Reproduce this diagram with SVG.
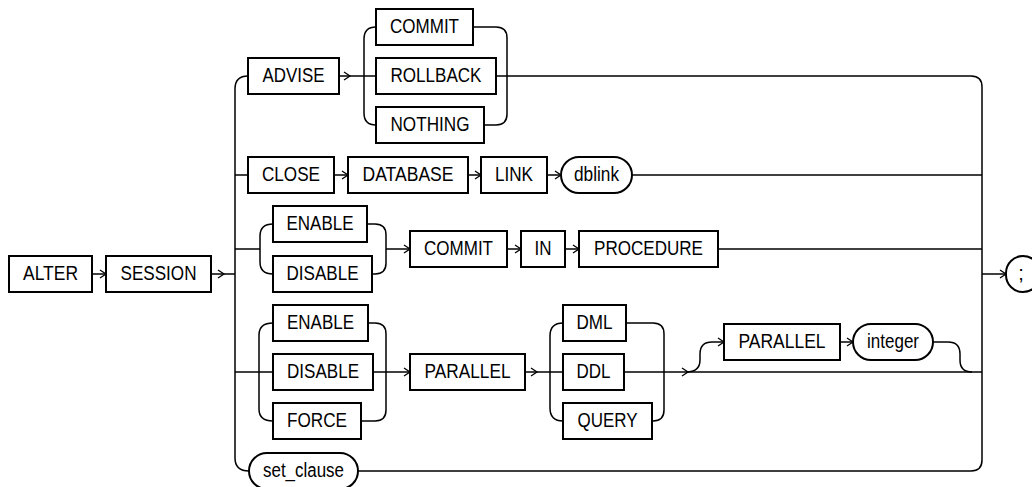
<svg xmlns="http://www.w3.org/2000/svg" width="1032" height="487" viewBox="0 0 1032 487">
<style>
.b{fill:#fff;stroke:#000;stroke-width:2}
.t{font-family:"Liberation Sans",Arial,sans-serif;font-size:20px;fill:#000;text-anchor:middle}
.c{fill:none;stroke:#000;stroke-width:1.5}
.ar{fill:none;stroke:#000;stroke-width:1.5;marker-end:url(#a)}
</style>
<defs>
<marker id="a" markerWidth="10" markerHeight="10" refX="8.5" refY="5" orient="auto" markerUnits="userSpaceOnUse">
<path d="M2.5,1 L8.5,5 L2.5,9" fill="none" stroke="#000" stroke-width="1.3"/>
</marker>
</defs>
<rect width="1032" height="487" fill="#fff"/>
<g id="connectors">
<path class="ar" d="M92,274 H106"/>
<path class="ar" d="M211,274 H224"/>
<path class="c" d="M224,274 H235"/>
<path class="c" d="M248,76 Q235,76 235,89 V458 Q235,471 249,471"/>
<path class="c" d="M235,175 H248"/>
<path class="c" d="M235,249 H260"/>
<path class="c" d="M235,372 H273"/>
<path class="ar" d="M339,76 H350"/>
<path class="c" d="M350,76 H376"/>
<path class="c" d="M376,27 Q364,27 364,39 V113 Q364,125 376,125"/>
<path class="c" d="M473,27 H496 Q507,27 507,38 V114 Q507,125 496,125 H484"/>
<path class="c" d="M496,76 H971 Q982,76 982,87 V460 Q982,471 971,471 H358"/>
<path class="ar" d="M334,175 H348"/>
<path class="ar" d="M468,175 H481"/>
<path class="ar" d="M547,175 H561"/>
<path class="c" d="M632,175 H982"/>
<path class="c" d="M273,224 Q260,224 260,236 V262 Q260,274 273,274"/>
<path class="c" d="M367,224 H375 Q386,224 386,235 V263 Q386,274 375,274 H372"/>
<path class="ar" d="M386,249 H410"/>
<path class="ar" d="M507,249 H521"/>
<path class="ar" d="M565,249 H579"/>
<path class="c" d="M718,249 H982"/>
<path class="ar" d="M982,274 H1006"/>
<path class="c" d="M273,323 Q259,323 259,335 V409 Q259,421 273,421"/>
<path class="c" d="M368,323 H375 Q386,323 386,334 V410 Q386,421 375,421 H361"/>
<path class="ar" d="M373,372 H410"/>
<path class="ar" d="M525,372 H537"/>
<path class="c" d="M537,372 H563"/>
<path class="c" d="M563,323 Q550,323 550,336 V408 Q550,421 563,421"/>
<path class="c" d="M626,323 H653 Q664,323 664,334 V410 Q664,421 653,421 H652"/>
<path class="ar" d="M624,372 H688"/>
<path class="c" d="M688,372 H982"/>
<path class="c" d="M686,372 Q700,372 700,360 V354 Q700,342 712,342"/>
<path class="ar" d="M712,342 H724"/>
<path class="ar" d="M840,342 H853"/>
<path class="c" d="M933,342 H948 Q960,342 960,354 V360 Q960,372 972,372"/>
</g>
<g id="n-alter"><rect class="b" x="9" y="256" width="83" height="36"/><text class="t" x="50.5" y="279.5" textLength="55" lengthAdjust="spacingAndGlyphs">ALTER</text></g>
<g id="n-session"><rect class="b" x="106" y="256" width="105" height="36"/><text class="t" x="158.5" y="279.5" textLength="76" lengthAdjust="spacingAndGlyphs">SESSION</text></g>
<g id="n-advise"><rect class="b" x="248" y="58" width="91" height="36"/><text class="t" x="293.5" y="81.5" textLength="62" lengthAdjust="spacingAndGlyphs">ADVISE</text></g>
<g id="n-commit1"><rect class="b" x="376" y="9" width="97" height="36"/><text class="t" x="424.5" y="32.5" textLength="69" lengthAdjust="spacingAndGlyphs">COMMIT</text></g>
<g id="n-rollback"><rect class="b" x="376" y="58" width="120" height="36"/><text class="t" x="436" y="81.5" textLength="91" lengthAdjust="spacingAndGlyphs">ROLLBACK</text></g>
<g id="n-nothing"><rect class="b" x="376" y="107" width="108" height="36"/><text class="t" x="430" y="130.5" textLength="79" lengthAdjust="spacingAndGlyphs">NOTHING</text></g>
<g id="n-close"><rect class="b" x="248" y="157" width="86" height="36"/><text class="t" x="291" y="180.5" textLength="58" lengthAdjust="spacingAndGlyphs">CLOSE</text></g>
<g id="n-database"><rect class="b" x="348" y="157" width="120" height="36"/><text class="t" x="408" y="180.5" textLength="91" lengthAdjust="spacingAndGlyphs">DATABASE</text></g>
<g id="n-link"><rect class="b" x="481" y="157" width="66" height="36"/><text class="t" x="514" y="180.5" textLength="38" lengthAdjust="spacingAndGlyphs">LINK</text></g>
<g id="n-dblink"><rect class="b" x="561" y="157" width="71" height="36" rx="18"/><text class="t" x="596.5" y="180.5" textLength="45" lengthAdjust="spacingAndGlyphs">dblink</text></g>
<g id="n-enable1"><rect class="b" x="273" y="206" width="94" height="36"/><text class="t" x="320" y="229.5" textLength="67" lengthAdjust="spacingAndGlyphs">ENABLE</text></g>
<g id="n-disable1"><rect class="b" x="273" y="256" width="99" height="36"/><text class="t" x="322.5" y="279.5" textLength="72" lengthAdjust="spacingAndGlyphs">DISABLE</text></g>
<g id="n-commit2"><rect class="b" x="410" y="231" width="97" height="36"/><text class="t" x="458.5" y="254.5" textLength="69" lengthAdjust="spacingAndGlyphs">COMMIT</text></g>
<g id="n-in"><rect class="b" x="521" y="231" width="44" height="36"/><text class="t" x="543" y="254.5" textLength="17" lengthAdjust="spacingAndGlyphs">IN</text></g>
<g id="n-procedure"><rect class="b" x="579" y="231" width="139" height="36"/><text class="t" x="648.5" y="254.5" textLength="109" lengthAdjust="spacingAndGlyphs">PROCEDURE</text></g>
<g id="n-enable2"><rect class="b" x="273" y="305" width="95" height="36"/><text class="t" x="320.5" y="328.5" textLength="67" lengthAdjust="spacingAndGlyphs">ENABLE</text></g>
<g id="n-disable2"><rect class="b" x="273" y="354" width="100" height="36"/><text class="t" x="323" y="377.5" textLength="72" lengthAdjust="spacingAndGlyphs">DISABLE</text></g>
<g id="n-force"><rect class="b" x="273" y="403" width="88" height="36"/><text class="t" x="317" y="426.5" textLength="60" lengthAdjust="spacingAndGlyphs">FORCE</text></g>
<g id="n-parallel1"><rect class="b" x="410" y="354" width="115" height="36"/><text class="t" x="467.5" y="377.5" textLength="86" lengthAdjust="spacingAndGlyphs">PARALLEL</text></g>
<g id="n-dml"><rect class="b" x="563" y="305" width="63" height="36"/><text class="t" x="594.5" y="328.5" textLength="36" lengthAdjust="spacingAndGlyphs">DML</text></g>
<g id="n-ddl"><rect class="b" x="563" y="354" width="61" height="36"/><text class="t" x="593.5" y="377.5" textLength="34" lengthAdjust="spacingAndGlyphs">DDL</text></g>
<g id="n-query"><rect class="b" x="563" y="403" width="89" height="36"/><text class="t" x="607.5" y="426.5" textLength="60" lengthAdjust="spacingAndGlyphs">QUERY</text></g>
<g id="n-parallel2"><rect class="b" x="724" y="324" width="116" height="36"/><text class="t" x="782" y="347.5" textLength="87" lengthAdjust="spacingAndGlyphs">PARALLEL</text></g>
<g id="n-integer"><rect class="b" x="853" y="324" width="80" height="36" rx="18"/><text class="t" x="893" y="347.5" textLength="52" lengthAdjust="spacingAndGlyphs">integer</text></g>
<g id="n-set-clause"><rect class="b" x="249" y="453" width="109" height="36" rx="18"/><text class="t" x="303.5" y="476.5" textLength="81" lengthAdjust="spacingAndGlyphs">set_clause</text></g>
<g id="n-semicolon"><rect class="b" x="1006" y="256" width="34" height="36" rx="17"/><text class="t" x="1021" y="279.5">;</text></g>
</svg>
